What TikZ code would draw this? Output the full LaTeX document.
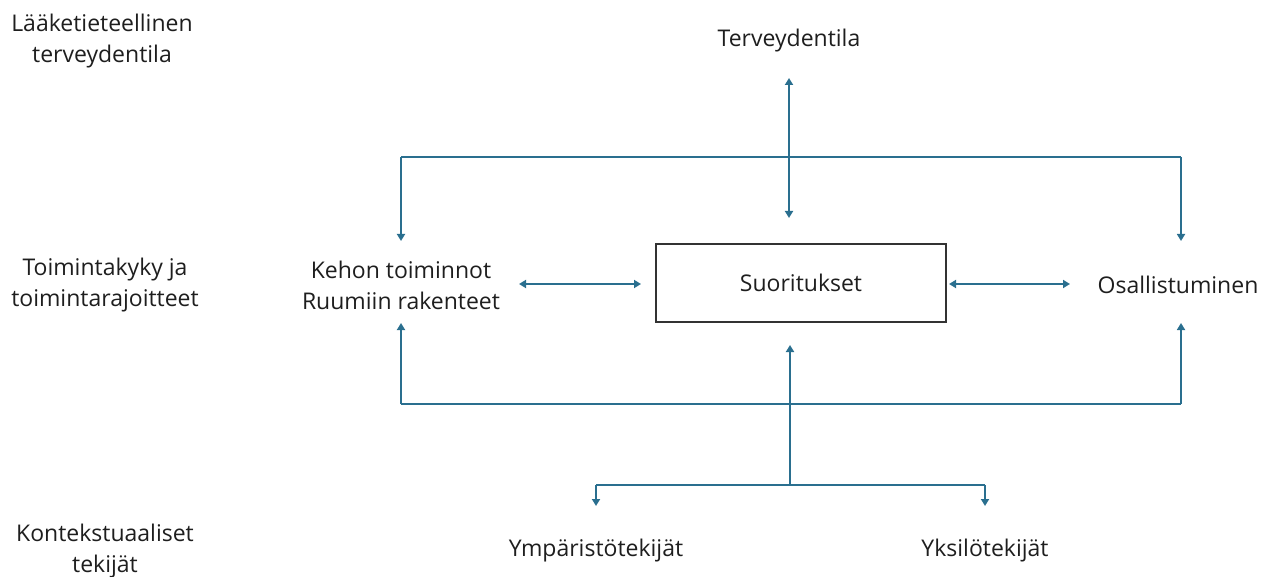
\documentclass[tikz,border=0pt]{standalone}
\usepackage{fontspec}
\setmainfont{Open Sans}
\usetikzlibrary{arrows.meta}
\definecolor{lineblue}{HTML}{2A6F8F}
\definecolor{txt}{HTML}{1E1E1E}
\tikzset{
  lbl/.style={font=\fontsize{23}{31}\selectfont, text=txt, align=center, inner sep=0pt},
  conn/.style={draw=lineblue, line width=2pt, -{Triangle[width=8pt,length=7pt]}},
  both/.style={conn, {Triangle[width=8pt,length=7pt]}-{Triangle[width=8pt,length=7pt]}},
  plain/.style={draw=lineblue, line width=2pt},
  mainbox/.style={draw=black!80, line width=1.6pt, minimum width=290pt, minimum height=78pt, font=\fontsize{23}{30}\selectfont, text=txt}
}
\begin{document}
\begin{tikzpicture}[x=1pt,y=-1pt]
\useasboundingbox (0,0) rectangle (1276,577);
% left column labels
\node[lbl] (lt) at (102,41) {Lääketieteellinen\\terveydentila};
\node[lbl] (tk) at (105,285) {Toimintakyky ja\\toimintarajoitteet};
\node[lbl] (kt) at (105,551) {Kontekstuaaliset\\tekijät};
% main nodes
\node[lbl] (tv) at (789,41) {Terveydentila};
\node[mainbox] (su) at (801,283) {Suoritukset};
\node[lbl] (kr) at (401,285) {Kehon toiminnot\\Ruumiin rakenteet};
\node[lbl] (os) at (1178,285) {Osallistuminen};
\node[lbl] (ym) at (596,551) {Ympäristötekijät};
\node[lbl] (yk) at (985,551) {Yksilötekijät};
% anchor coordinates
\coordinate (tvb) at (789,78);
\coordinate (sut) at (789,218);
\coordinate (tl) at (401,157);
\coordinate (tr) at (1181,157);
\coordinate (krt) at (401,241);
\coordinate (ost) at (1181,241);
\coordinate (krb) at (401,323);
\coordinate (osb) at (1181,323);
\coordinate (bl) at (401,404);
\coordinate (br) at (1181,404);
\coordinate (krr) at (519,284);
\coordinate (sul) at (641,284);
\coordinate (sur) at (949,284);
\coordinate (osl) at (1070,284);
\coordinate (sub) at (790,345);
\coordinate (hub) at (790,485);
\coordinate (hl) at (596,485);
\coordinate (hr) at (985,485);
\coordinate (ymt) at (596,506);
\coordinate (ykt) at (985,506);
% connectors
\draw[both] (tvb) -- (sut);
\draw[conn] (tl) -- (krt);
\draw[plain] (tl) -- (tr);
\draw[conn] (tr) -- (ost);
\draw[plain] (bl) -- (br);
\draw[conn] (bl) -- (krb);
\draw[conn] (br) -- (osb);
\draw[both] (krr) -- (sul);
\draw[both] (sur) -- (osl);
\draw[conn] (hub) -- (sub);
\draw[plain] (hl) -- (hr);
\draw[conn] (hl) -- (ymt);
\draw[conn] (hr) -- (ykt);
\end{tikzpicture}
\end{document}
